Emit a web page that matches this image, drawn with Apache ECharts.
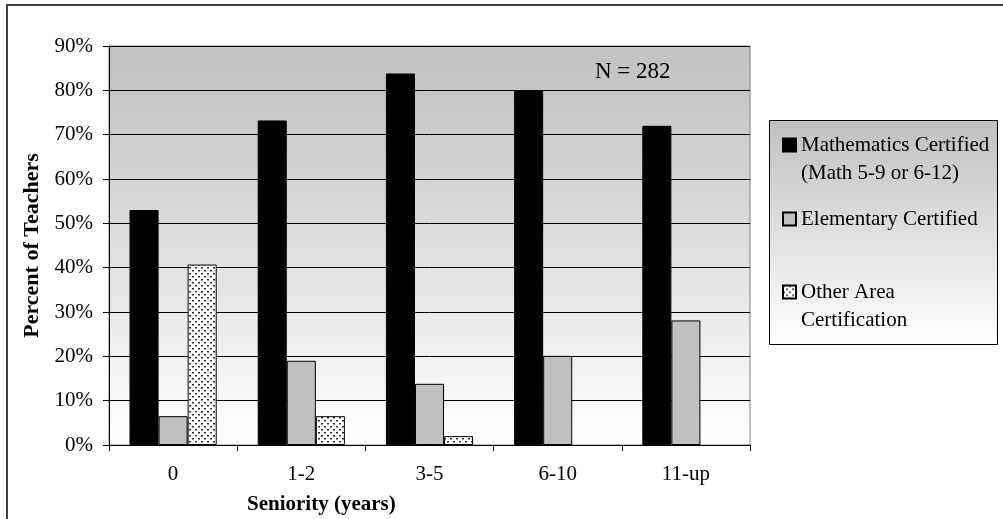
<!DOCTYPE html>
<html>
<head>
<meta charset="utf-8">
<script src="https://cdn.jsdelivr.net/npm/echarts@6/dist/echarts.min.js"></script>
<style>
html,body{margin:0;padding:0;background:#fff;}
#chart{width:1003px;height:519px;}
</style>
</head>
<body>
<div id="chart"></div>
<script>
const categories = ['0', '1-2', '3-5', '6-10', '11-up'];
const seriesNames = ['Mathematics Certified (Math 5-9 or 6-12)', 'Elementary Certified', 'Other Area Certification'];
const mathCertified = [53, 73.2, 83.8, 80, 72];
const elementaryCertified = [6.5, 19, 13.8, 20.1, 28.1];
const otherCertified = [40.7, 6.5, 2, 0, 0];
const yTicks = [0, 10, 20, 30, 40, 50, 60, 70, 80, 90];

const FONT = '"Liberation Serif", "Times New Roman", serif';

// dotted pattern for "Other Area Certification"
const pc = document.createElement('canvas');
pc.width = 6; pc.height = 6;
const pctx = pc.getContext('2d');
pctx.fillStyle = '#ffffff';
pctx.fillRect(0, 0, 6, 6);
pctx.fillStyle = '#2a2a2a';
pctx.fillRect(0, 0, 2, 1);
pctx.fillRect(3, 3, 2, 1);
pctx.fillStyle = '#9a9a9a';
pctx.fillRect(0, 1, 2, 1);
pctx.fillRect(3, 4, 2, 1);
const patternFill = { image: pc, repeat: 'repeat' };

// hide outlines on zero-height bars
function barData(arr) {
  return arr.map(function (v) { return v === 0 ? { value: v, itemStyle: { borderWidth: 0 } } : v; });
}

const chart = echarts.init(document.getElementById('chart'), null, { renderer: 'canvas' });

function legendDef(name, top) {
  return {
    data: [name],
    left: 782,
    top: top,
    orient: 'vertical',
    padding: 0,
    icon: 'rect',
    itemWidth: 13,
    itemHeight: 13,
    itemGap: 0,
    selectedMode: false,
    formatter: function (n) {
      if (n === seriesNames[0]) return '\nMathematics Certified\n(Math 5-9 or 6-12)';
      if (n === seriesNames[2]) return '\nOther Area\nCertification';
      return n;
    },
    textStyle: { fontFamily: FONT, fontSize: 21, lineHeight: 28, color: '#000' }
  };
}

const option = {
  animation: false,
  backgroundColor: '#ffffff',
  title: [
    { text: 'N = 282', left: 590, top: 55, textStyle: { fontFamily: FONT, fontSize: 23, fontWeight: 'normal', color: '#000' } },
    { text: 'Seniority (years)', left: 242, top: 489, textStyle: { fontFamily: FONT, fontSize: 21, fontWeight: 'bold', color: '#000' } }
  ],
  graphic: [
    { type: 'rect', z: 0, shape: { x: 7, y: 5, width: 1020, height: 540 }, style: { fill: 'none', stroke: '#404040', lineWidth: 2 } },
    { type: 'rect', z: 0, shape: { x: 769.5, y: 120.5, width: 228, height: 224 },
      style: { fill: new echarts.graphic.LinearGradient(0, 0, 0, 1, [{ offset: 0, color: '#c0c0c0' }, { offset: 1, color: '#ffffff' }]), stroke: '#000', lineWidth: 1 } }
  ],
  legend: [legendDef(seriesNames[0], 103), legendDef(seriesNames[1], 205), legendDef(seriesNames[2], 250)],
  grid: {
    left: 109, right: 253, top: 46, bottom: 74,
    show: true,
    backgroundColor: new echarts.graphic.LinearGradient(0, 0, 0, 1, [{ offset: 0, color: '#c3c3c3' }, { offset: 0.12, color: '#c6c6c6' }, { offset: 1, color: '#ffffff' }]),
    borderColor: '#808080', borderWidth: 1
  },
  xAxis: {
    type: 'category',
    data: categories,
    axisLine: { lineStyle: { color: '#000', width: 1 } },
    axisTick: { show: true, length: 6, lineStyle: { color: '#000' } },
    axisLabel: { fontFamily: FONT, fontSize: 21, color: '#000', margin: 19 },
    splitLine: { show: false }
  },
  yAxis: {
    type: 'value',
    min: 0, max: 90, interval: 10,
    name: 'Percent of Teachers',
    nameLocation: 'middle',
    nameGap: 61,
    nameTextStyle: { fontFamily: FONT, fontSize: 22, fontWeight: 'bold', color: '#000' },
    axisLine: { show: true, lineStyle: { color: '#000', width: 1 } },
    axisTick: { show: true, length: 6, lineStyle: { color: '#000' } },
    axisLabel: {
      fontFamily: FONT, fontSize: 21, color: '#000', margin: 16,
      formatter: function (v) { return yTicks.indexOf(v) >= 0 ? v + '%' : ''; }
    },
    splitLine: { show: true, lineStyle: { color: '#000', width: 1 } }
  },
  series: [
    { name: seriesNames[0], type: 'bar', data: barData(mathCertified), barGap: '0%', barCategoryGap: '32%',
      itemStyle: { color: '#000000', borderColor: '#000', borderWidth: 1 } },
    { name: seriesNames[1], type: 'bar', data: barData(elementaryCertified),
      itemStyle: { color: '#c0c0c0', borderColor: '#000', borderWidth: 1 } },
    { name: seriesNames[2], type: 'bar', data: barData(otherCertified),
      itemStyle: { color: patternFill, borderColor: '#000', borderWidth: 1 } }
  ]
};
chart.setOption(option);
</script>
</body>
</html>
